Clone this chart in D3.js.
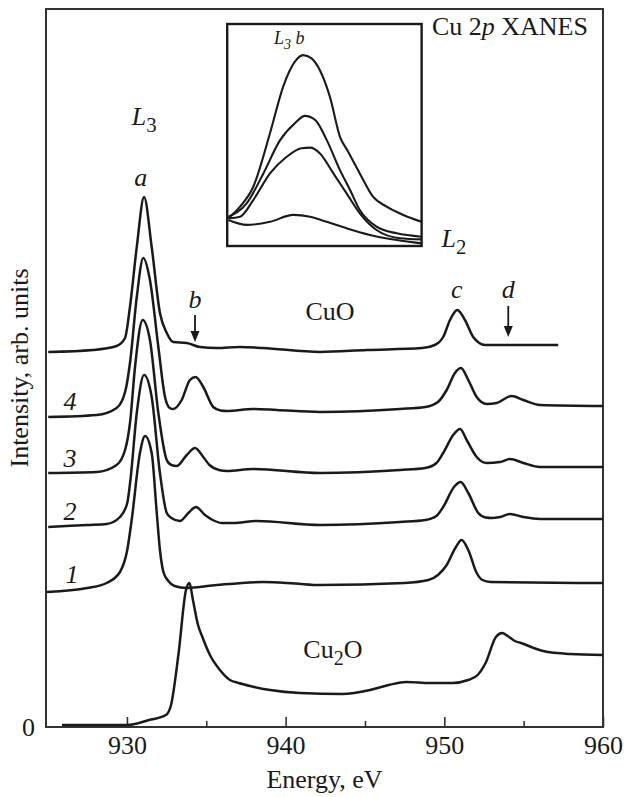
<!DOCTYPE html>
<html>
<head>
<meta charset="utf-8">
<script src="https://cdn.jsdelivr.net/npm/d3@7"></script>
<style>
  body { margin: 0; background: #fff; }
  text { font-family: "Liberation Serif", "Times New Roman", serif; fill: #1a1a1a; }
</style>
</head>
<body>
<div id="chart"></div>
<script>
// Spectra: [energy eV, intensity arb. units] (offset already included)
var cu2o = [[925.91,0.02],[930.0,0.02],[931.39,0.07],[932.46,0.12],[932.78,0.22],[933.25,0.73],[933.72,1.37],
  [933.94,1.44],[934.16,1.27],[934.48,1.02],[934.73,0.91],[935.23,0.72],[935.86,0.57],[936.49,0.47],[937.04,0.44],
  [937.76,0.41],[939.02,0.37],[940.9,0.34],[943.58,0.33],[945.32,0.37],[946.5,0.42],[947.6,0.45],[949.1,0.44],
  [950.5,0.44],[951.5,0.47],[952.1,0.52],[952.6,0.64],[953.25,0.9],[953.65,0.94],[954.0,0.91],[954.45,0.86],
  [954.83,0.84],[956.22,0.76],[957.92,0.73],[960.0,0.72]];

var sample1 = [[924.96,1.35],[927.5,1.39],[928.72,1.44],[929.56,1.55],[930.02,1.77],[930.3,2.07],[930.82,2.74],
  [931.14,2.91],[931.56,2.74],[931.88,2.14],[932.08,1.77],[932.3,1.55],[932.61,1.46],[933.0,1.41],[933.77,1.39],
  [935.66,1.42],[938.59,1.45],[940.59,1.435],[942.17,1.42],[947.48,1.44],[949.0,1.47],[949.6,1.52],[950.15,1.62],
  [950.73,1.8],[951.09,1.87],[951.51,1.77],[952.04,1.54],[952.4,1.47],[952.9,1.45],[960.0,1.44]];

var sample2 = [[925.04,2.0],[927.5,2.02],[928.72,2.03],[929.56,2.1],[930.02,2.24],[930.22,2.47],[930.62,3.14],
  [931.08,3.52],[931.56,3.3],[932.08,2.54],[932.51,2.14],[932.8,2.09],[933.34,2.06],[933.87,2.14],[934.35,2.2],
  [934.92,2.12],[935.4,2.07],[936.0,2.04],[936.7,2.04],[938.18,2.06],[942.17,2.02],[947.21,2.05],[948.8,2.07],
  [949.5,2.11],[949.93,2.2],[950.61,2.4],[951.03,2.45],[951.51,2.34],[952.14,2.14],[952.6,2.095],[953.0,2.09],
  [953.51,2.1],[954.14,2.13],[954.98,2.1],[956.03,2.08],[960.0,2.08]];

var sample3 = [[925.04,2.54],[928.09,2.55],[929.35,2.62],[929.9,2.78],[930.2,3.05],[930.51,3.6],[930.99,4.07],
  [931.45,3.87],[931.98,3.14],[932.51,2.67],[932.8,2.62],[933.14,2.61],[933.77,2.72],[934.29,2.79],[934.81,2.7],
  [935.2,2.62],[935.8,2.57],[936.29,2.56],[937.96,2.58],[942.17,2.54],[947.21,2.57],[948.8,2.59],[949.5,2.64],
  [949.93,2.74],[950.56,2.92],[950.99,2.98],[951.41,2.87],[952.04,2.7],[952.67,2.64],[953.51,2.65],[954.14,2.68],
  [954.98,2.64],[956.03,2.6],[960.0,2.6]];

var sample4 = [[925.04,3.1],[928.09,3.12],[929.35,3.19],[929.9,3.36],[930.2,3.65],[930.62,4.3],[931.03,4.69],
  [931.45,4.47],[931.98,3.8],[932.4,3.3],[932.7,3.19],[932.92,3.18],[933.45,3.27],[933.97,3.47],[934.33,3.5],
  [934.81,3.4],[935.44,3.2],[935.9,3.165],[936.29,3.16],[937.96,3.18],[939.44,3.17],[942.17,3.15],[947.21,3.18],
  [948.8,3.2],[949.6,3.25],[950.15,3.37],[950.67,3.54],[951.05,3.59],[951.51,3.47],[952.04,3.3],[952.67,3.23],
  [953.3,3.24],[954.24,3.31],[954.98,3.27],[956.03,3.22],[960.0,3.21]];

var cuo = [[925.04,3.75],[927.86,3.77],[929.35,3.81],[929.88,3.89],[930.19,4.2],[930.62,4.8],[931.08,5.3],
  [931.56,4.8],[932.08,4.14],[932.51,3.94],[932.92,3.85],[933.77,3.84],[934.6,3.8],[935.66,3.79],[937.12,3.8],
  [938.57,3.79],[942.17,3.75],[945.11,3.77],[948.6,3.79],[949.4,3.82],[949.93,3.9],[950.36,4.07],[950.82,4.17],
  [951.3,4.07],[951.82,3.9],[952.2,3.84],[952.56,3.82],[957.18,3.82]];

var spectra = [cu2o, sample1, sample2, sample3, sample4, cuo];

// Inset: zoom on the L3 b feature (relative units)
var insetA = [[932.03,0.125],[932.33,0.177],[932.67,0.267],[933.1,0.508],[933.44,0.718],[933.74,0.83],[933.95,0.86],
  [934.17,0.845],[934.38,0.793],[934.64,0.673],[934.9,0.492],[935.11,0.425],[935.41,0.327],[935.75,0.222],
  [936.1,0.177],[936.53,0.14],[937.0,0.109]];
var insetB = [[932.03,0.132],[932.5,0.192],[932.93,0.327],[933.36,0.477],[933.74,0.553],[934.0,0.586],[934.26,0.568],
  [934.56,0.477],[934.9,0.342],[935.16,0.252],[935.41,0.162],[935.84,0.087],[936.36,0.057],[937.0,0.042]];
var insetC = [[932.03,0.125],[932.33,0.132],[932.67,0.207],[933.1,0.327],[933.53,0.402],[933.91,0.44],[934.13,0.443],
  [934.38,0.418],[934.73,0.327],[935.07,0.237],[935.41,0.147],[935.84,0.072],[936.44,0.035],[937.0,0.03]];
var insetD = [[932.03,0.117],[932.5,0.095],[933.1,0.109],[933.7,0.14],[934.13,0.132],[934.56,0.109],[935.07,0.08],
  [935.67,0.05],[936.36,0.027],[937.0,0.012]];
var insetCurves = [insetA, insetB, insetC, insetD];

var majorTicks = [930, 940, 950, 960];
var minorTicks = [935, 945, 955];

// Curve numbers and peak letters: [text, energy, intensity]
var sampleLabels = [["4", 926.41, 3.17], ["3", 926.41, 2.60], ["2", 926.41, 2.07], ["1", 926.54, 1.44]];
var peakLabels = [["a", 930.87, 5.41], ["b", 934.29, 4.19], ["c", 950.78, 4.29], ["d", 954.03, 4.29]];
// Arrows: [energy, top, tip]
var arrows = [[934.29, 4.12, 3.85], [954.03, 4.21, 3.9]];

var width = 628, height = 797;
var margin = {top: 9, right: 25, bottom: 70, left: 46};
var fontSize = 26;

var svg = d3.select("#chart").append("svg")
    .attr("width", width)
    .attr("height", height);

var x = d3.scaleLinear().domain([924.9, 960]).range([margin.left, width - margin.right]);
var y = d3.scaleLinear().domain([0, 7.18]).range([height - margin.bottom, margin.top]);

var ink = "#1a1a1a";

// frame
svg.append("rect")
    .attr("x", x(924.9)).attr("y", y(7.18))
    .attr("width", x(960) - x(924.9)).attr("height", y(0) - y(7.18))
    .attr("fill", "none").attr("stroke", "#333").attr("stroke-width", 2);

// bottom axis, ticks pointing inward
var xAxis = svg.append("g")
    .attr("transform", "translate(0," + y(0) + ")")
    .call(d3.axisBottom(x).tickValues(majorTicks).tickSize(-10).tickPadding(9).tickFormat(d3.format("d")));
xAxis.select(".domain").remove();
xAxis.selectAll("line").attr("stroke", "#333").attr("stroke-width", 1.6);
xAxis.selectAll("text").attr("font-size", fontSize).attr("fill", ink)
    .style("font-family", '"Liberation Serif", "Times New Roman", serif');

var xMinor = svg.append("g")
    .attr("transform", "translate(0," + y(0) + ")")
    .call(d3.axisBottom(x).tickValues(minorTicks).tickSize(-6).tickFormat(""));
xMinor.select(".domain").remove();
xMinor.selectAll("line").attr("stroke", "#333").attr("stroke-width", 1.6);

// only the zero is labelled on the intensity axis
var yAxis = svg.append("g")
    .attr("transform", "translate(" + x(924.9) + ",0)")
    .call(d3.axisLeft(y).tickValues([0]).tickSize(0).tickPadding(11));
yAxis.select(".domain").remove();
yAxis.selectAll("text").attr("font-size", fontSize).attr("fill", ink)
    .style("font-family", '"Liberation Serif", "Times New Roman", serif');

svg.append("text")
    .attr("x", (x(924.9) + x(960)) / 2).attr("y", 788)
    .attr("text-anchor", "middle").attr("font-size", fontSize)
    .text("Energy, eV");

svg.append("text")
    .attr("transform", "translate(28," + 368 + ") rotate(-90)")
    .attr("text-anchor", "middle").attr("font-size", fontSize)
    .text("Intensity, arb. units");

// spectra
var line = d3.line()
    .x(function(d) { return x(d[0]); })
    .y(function(d) { return y(d[1]); })
    .curve(d3.curveMonotoneX);

svg.append("g").selectAll("path")
    .data(spectra)
    .enter().append("path")
    .attr("d", line)
    .attr("fill", "none")
    .attr("stroke", ink)
    .attr("stroke-width", 2.5)
    .attr("stroke-linejoin", "round");

// labels on the curves
svg.append("g").selectAll("text")
    .data(sampleLabels.concat(peakLabels))
    .enter().append("text")
    .attr("x", function(d) { return x(d[1]); })
    .attr("y", function(d) { return y(d[2]); })
    .attr("text-anchor", "middle")
    .attr("font-size", fontSize)
    .attr("font-style", "italic")
    .text(function(d) { return d[0]; });

// arrows over b and d
arrows.forEach(function(a) {
  var ax = x(a[0]);
  svg.append("line")
      .attr("x1", ax).attr("x2", ax)
      .attr("y1", y(a[1])).attr("y2", y(a[2]) - 8)
      .attr("stroke", ink).attr("stroke-width", 1.8);
  svg.append("path")
      .attr("d", "M" + (ax - 4.5) + "," + (y(a[2]) - 11) + "L" + (ax + 4.5) + "," + (y(a[2]) - 11) + "L" + ax + "," + y(a[2]) + "Z")
      .attr("fill", ink);
});

// L3 / L2 edge labels with subscripts
function edgeLabel(letter, sub, e, i, size) {
  var t = svg.append("text")
      .attr("x", x(e)).attr("y", y(i))
      .attr("font-size", size);
  t.append("tspan").attr("font-style", "italic").text(letter);
  t.append("tspan").attr("font-size", size * 0.8).attr("dy", size * 0.26).text(sub);
  return t;
}
edgeLabel("L", "3", 930.3, 6.02, fontSize);
edgeLabel("L", "2", 949.83, 4.80, fontSize);

// sample names
svg.append("text")
    .attr("x", x(942.8)).attr("y", y(4.07))
    .attr("text-anchor", "middle").attr("font-size", fontSize)
    .text("CuO");

var cu2oLabel = svg.append("text")
    .attr("x", x(942.98)).attr("y", y(0.69))
    .attr("text-anchor", "middle").attr("font-size", fontSize);
cu2oLabel.append("tspan").text("Cu");
cu2oLabel.append("tspan").attr("font-size", 20).attr("dy", 7).text("2");
cu2oLabel.append("tspan").attr("dy", -7).text("O");

var title = svg.append("text")
    .attr("x", x(949.22)).attr("y", y(6.92))
    .attr("font-size", fontSize);
title.append("tspan").text("Cu 2");
title.append("tspan").attr("font-style", "italic").text("p");
title.append("tspan").text(" XANES");

// inset box
var insetBox = {e0: 936.32, e1: 948.57, i0: 4.81, i1: 7.03};
var ix = d3.scaleLinear().domain([932, 937]).range([x(insetBox.e0), x(insetBox.e1)]);
var iy = d3.scaleLinear().domain([0, 1]).range([y(insetBox.i0), y(insetBox.i1)]);

svg.append("rect")
    .attr("x", x(insetBox.e0)).attr("y", y(insetBox.i1))
    .attr("width", x(insetBox.e1) - x(insetBox.e0))
    .attr("height", y(insetBox.i0) - y(insetBox.i1))
    .attr("fill", "#fff").attr("stroke", ink).attr("stroke-width", 2.4);

var insetLine = d3.line()
    .x(function(d) { return ix(d[0]); })
    .y(function(d) { return iy(d[1]); })
    .curve(d3.curveMonotoneX);

svg.append("g").selectAll("path")
    .data(insetCurves)
    .enter().append("path")
    .attr("d", insetLine)
    .attr("fill", "none")
    .attr("stroke", ink)
    .attr("stroke-width", 2.1)
    .attr("stroke-linejoin", "round");

var insetLabel = svg.append("text")
    .attr("x", ix(933.2)).attr("y", iy(0.91))
    .attr("font-size", 18).attr("font-style", "italic");
insetLabel.append("tspan").text("L");
insetLabel.append("tspan").attr("font-size", 14).attr("dy", 5).text("3");
insetLabel.append("tspan").attr("dy", -5).text(" b");
</script>
</body>
</html>
